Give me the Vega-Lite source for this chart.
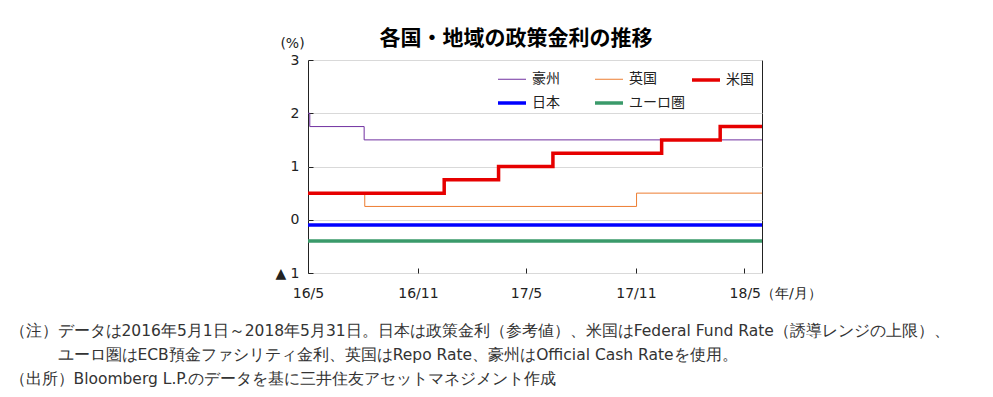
{
  "$schema": "https://vega.github.io/schema/vega-lite/v6.json",
  "width": 454,
  "height": 213,
  "autosize": {"type": "none"},
  "padding": {"left": 308, "top": 60, "right": 231, "bottom": 124},
  "background": "white",
  "title": {
    "text": "各国・地域の政策金利の推移",
    "font": "Noto Sans CJK JP",
    "fontSize": 21,
    "fontWeight": "bold",
    "color": "#000",
    "frame": "group",
    "anchor": "middle",
    "dx": -19,
    "dy": 17
  },
  "config": {
    "view": {"stroke": "#222", "strokeWidth": 1},
    "font": "DejaVu Sans"
  },
  "data": {
    "values": [
      {"country": "豪州", "date": "2016-05-01", "rate": 2.0},
      {"country": "豪州", "date": "2016-05-04", "rate": 1.75},
      {"country": "豪州", "date": "2016-08-03", "rate": 1.5},
      {"country": "豪州", "date": "2018-05-31", "rate": 1.5},
      {"country": "英国", "date": "2016-05-01", "rate": 0.5},
      {"country": "英国", "date": "2016-08-04", "rate": 0.25},
      {"country": "英国", "date": "2017-11-02", "rate": 0.5},
      {"country": "英国", "date": "2018-05-31", "rate": 0.5},
      {"country": "日本", "date": "2016-05-01", "rate": -0.1},
      {"country": "日本", "date": "2018-05-31", "rate": -0.1},
      {"country": "ユーロ圏", "date": "2016-05-01", "rate": -0.4},
      {"country": "ユーロ圏", "date": "2018-05-31", "rate": -0.4},
      {"country": "米国", "date": "2016-05-01", "rate": 0.5},
      {"country": "米国", "date": "2016-12-15", "rate": 0.75},
      {"country": "米国", "date": "2017-03-16", "rate": 1.0},
      {"country": "米国", "date": "2017-06-15", "rate": 1.25},
      {"country": "米国", "date": "2017-12-14", "rate": 1.5},
      {"country": "米国", "date": "2018-03-22", "rate": 1.75},
      {"country": "米国", "date": "2018-05-31", "rate": 1.75}
    ]
  },
  "mark": {"type": "line", "interpolate": "step-after", "clip": true},
  "encoding": {
    "x": {
      "field": "date",
      "type": "temporal",
      "scale": {
        "type": "utc",
        "domain": [
          {"year": 2016, "month": 5, "date": 1, "utc": true},
          {"year": 2018, "month": 5, "date": 31, "utc": true}
        ]
      },
      "axis": {
        "values": [
          {"year": 2016, "month": 5, "date": 1, "utc": true},
          {"year": 2016, "month": 11, "date": 1, "utc": true},
          {"year": 2017, "month": 5, "date": 1, "utc": true},
          {"year": 2017, "month": 11, "date": 1, "utc": true},
          {"year": 2018, "month": 5, "date": 1, "utc": true}
        ],
        "labelExpr": "utcFormat(datum.value, '%y/%-m') + (utcyear(datum.value) == 2018 ? '（年/月）' : '')",
        "labelAlign": {"condition": {"test": "utcyear(datum.value) == 2018", "value": "left"}, "value": "center"},
        "labelOffset": {"condition": {"test": "utcyear(datum.value) == 2018", "value": -15}, "value": 0},
        "labelFlush": false,
        "labelOverlap": false,
        "labelFont": "DejaVu Sans",
        "labelFontSize": 14,
        "labelColor": "#222",
        "labelPadding": 18,
        "domain": false,
        "grid": false,
        "ticks": true,
        "tickSize": -5,
        "tickColor": "#222",
        "title": [
          "（注）データは2016年5月1日～2018年5月31日。日本は政策金利（参考値）、米国はFederal Fund Rate（誘導レンジの上限）、",
          "​　　　ユーロ圏はECB預金ファシリティ金利、英国はRepo Rate、豪州はOfficial Cash Rateを使用。",
          "（出所）Bloomberg L.P.のデータを基に三井住友アセットマネジメント作成"
        ],
        "titleFont": "DejaVu Sans",
        "titleFontSize": 15.5,
        "titleFontWeight": "normal",
        "titleColor": "#333",
        "titleAlign": "left",
        "titleBaseline": "alphabetic",
        "titleAnchor": "start",
        "titleX": -299,
        "titleY": 62,
        "titleLineHeight": 24
      }
    },
    "y": {
      "field": "rate",
      "type": "quantitative",
      "scale": {"domain": [-1, 3], "nice": false, "zero": false},
      "axis": {
        "values": [-1, 0, 1, 2, 3],
        "labelExpr": "datum.value < 0 ? '▲ ' + abs(datum.value) : datum.label",
        "labelFont": "DejaVu Sans",
        "labelFontSize": 14,
        "labelColor": "#222",
        "labelPadding": 14,
        "domain": false,
        "grid": true,
        "gridColor": "#d9d9d9",
        "gridWidth": 1,
        "ticks": true,
        "tickSize": -5,
        "tickColor": "#222",
        "title": "(%)",
        "titleFont": "DejaVu Sans",
        "titleFontSize": 14,
        "titleFontWeight": "normal",
        "titleColor": "#222",
        "titleAngle": 0,
        "titleAlign": "center",
        "titleBaseline": "middle",
        "titleX": -16,
        "titleY": -17
      }
    },
    "color": {
      "field": "country",
      "type": "nominal",
      "scale": {
        "domain": ["豪州", "英国", "米国", "日本", "ユーロ圏"],
        "range": ["#7030A0", "#ED7D31", "#E60000", "#0000FF", "#3A9A6A"]
      },
      "legend": {
        "title": null,
        "orient": "none",
        "direction": "horizontal",
        "legendX": 188,
        "legendY": 4,
        "columns": 3,
        "gridAlign": "all",
        "columnPadding": 0,
        "rowPadding": -13,
        "padding": 0,
        "symbolType": "stroke",
        "symbolSize": 784,
        "labelFont": "Noto Sans CJK JP",
        "labelFontSize": 14,
        "labelColor": "#222",
        "labelOffset": 4
      }
    },
    "strokeWidth": {
      "field": "country",
      "type": "nominal",
      "scale": {
        "type": "ordinal",
        "domain": ["豪州", "英国", "米国", "日本", "ユーロ圏"],
        "range": [1, 1, 3.5, 3.5, 3.5]
      },
      "legend": {
        "title": null,
        "orient": "none",
        "direction": "horizontal",
        "legendX": 188,
        "legendY": 4,
        "columns": 3,
        "gridAlign": "all",
        "columnPadding": 0,
        "rowPadding": -13,
        "padding": 0,
        "symbolType": "stroke",
        "symbolSize": 784,
        "labelFont": "Noto Sans CJK JP",
        "labelFontSize": 14,
        "labelColor": "#222",
        "labelOffset": 4
      }
    }
  }
}
